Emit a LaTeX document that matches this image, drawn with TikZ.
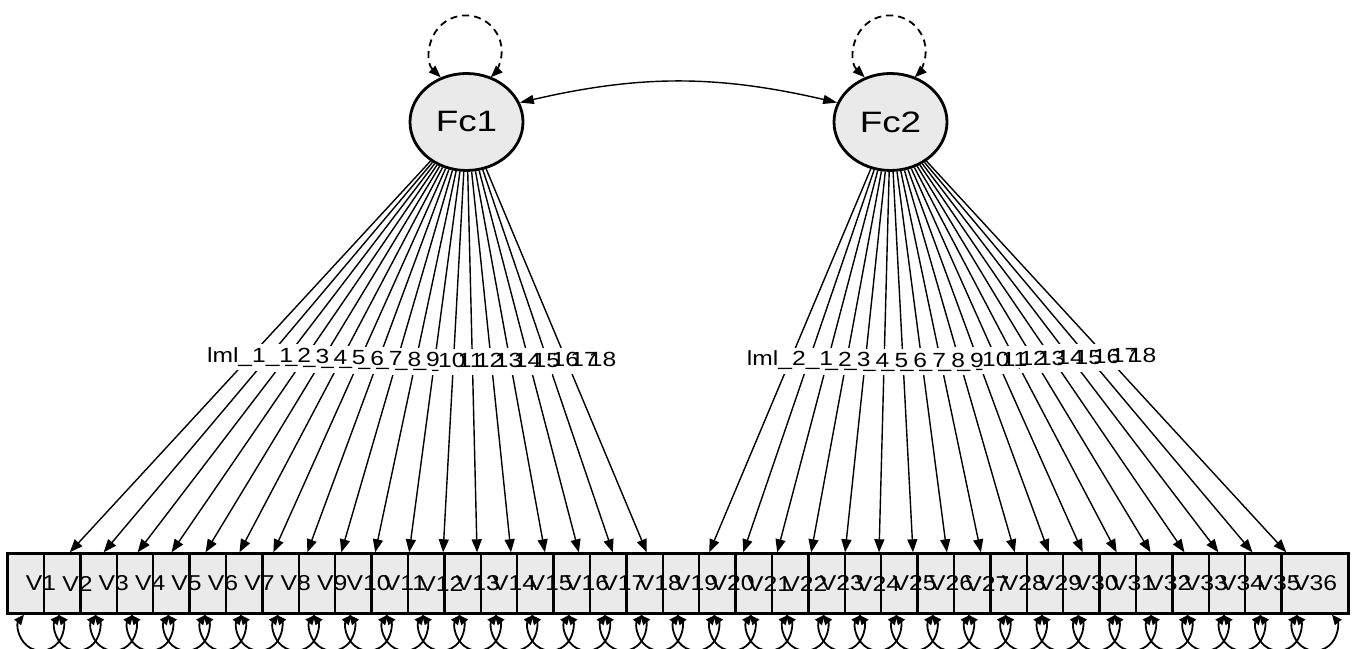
\documentclass[tikz,border=0pt]{standalone}
\usepackage{fontspec}
\setmainfont{Liberation Sans}[FakeStretch=1.25]
\newfontfamily\boxfont{Liberation Sans}[FakeStretch=1.15]
\newfontfamily\lblfont{Liberation Sans}[FakeStretch=1.2]
\usetikzlibrary{arrows.meta,shapes.geometric}
\definecolor{nodefill}{RGB}{234,234,234}
\tikzset{
  box/.style={draw=black, line width=2.4pt, fill=nodefill, minimum width=67pt, minimum height=60pt, inner sep=0pt},
  latent/.style={ellipse, draw=black, line width=2.8pt, fill=nodefill, minimum width=113pt, minimum height=97pt, inner sep=0pt, font=\fontsize{29.5}{30}\selectfont},
  boxlabel/.style={font=\boxfont\fontsize{21.5}{22}\selectfont, inner sep=0pt},
  loading/.style={line width=1.4pt, -{Triangle[length=13pt,width=10pt]}},
  resid/.style={line width=1.8pt, {Triangle[length=10pt,width=8.5pt]}-{Triangle[length=10pt,width=8.5pt]}},
  varloop/.style={line width=1.8pt, dash pattern=on 7pt off 5pt, {Triangle[length=12pt,width=9pt]}-{Triangle[length=12pt,width=9pt]}},
  cov/.style={line width=1.4pt, {Triangle[length=14pt,width=9pt]}-{Triangle[length=14pt,width=9pt]}},
  elabel/.style={fill=white, inner xsep=-8pt, inner ysep=0pt, minimum height=26pt, font=\lblfont\fontsize{20.5}{21}\selectfont},
}
\begin{document}
\begin{tikzpicture}[x=1pt,y=1pt]
\useasboundingbox (0,0) rectangle (1356,648);
% manifest boxes
\foreach \i in {1,...,36}{
  \node[box] (b\i) at ({41+36.4*(\i-1)}, 64.5) {};
}
\foreach \i in {1,...,36}{
  \node[boxlabel] at (b\i) {V\i};
}
% latent factors
\node[latent] (Fc1) at (466.5,526) {Fc1};
\node[latent] (Fc2) at (890.5,526) {Fc2};
% loadings
\foreach \i in {1,...,18}{
  \draw[loading] (Fc1) -- (b\i);
  \path (Fc1) -- (b\i) coordinate[midway] (m\i);
}
\foreach \i in {19,...,36}{
  \draw[loading] (Fc2) -- (b\i);
  \path (Fc2) -- (b\i) coordinate[midway] (m\i);
}
% residual loops
\foreach \i in {1,...,36}{
  \draw[resid] ([xshift=-17pt]b\i.south) arc[start angle=140.5, end angle=399.5, radius=22pt];
}
% factor variance loops
\draw[varloop] (Fc1.120) arc[start angle=226, end angle=-46, radius=36pt];
\draw[varloop] (Fc2.120) arc[start angle=226, end angle=-46, radius=36pt];
% covariance
\draw[cov] (Fc1.20) to[bend left=13] (Fc2.160);
% edge labels
\foreach \k in {18,...,1}{
  \node[elabel] at (m\k) {lml\_1\_\k};
}
\foreach \k [evaluate=\k as \i using int(\k+18)] in {18,...,1}{
  \node[elabel] at (m\i) {lml\_2\_\k};
}
\end{tikzpicture}
\end{document}
